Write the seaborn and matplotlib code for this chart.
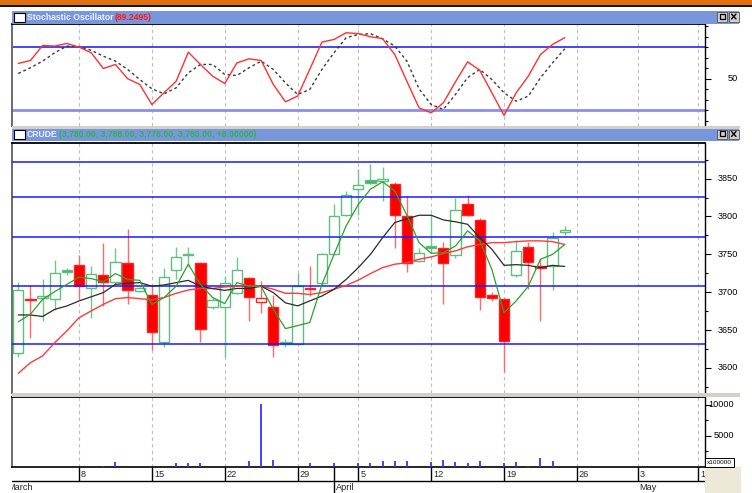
import matplotlib
matplotlib.use("Agg")
import numpy as np
import pandas as pd
import matplotlib.pyplot as plt
from matplotlib.patches import Rectangle
from matplotlib.lines import Line2D
from matplotlib.ticker import FixedLocator, MultipleLocator
from matplotlib.transforms import blended_transform_factory
import seaborn as sns

# ---------------------------------------------------------
# values (daily bars, 2 Mar .. 24 Apr)
# ---------------------------------------------------------
opens = [3620, 3691, 3693, 3691, 3730, 3735.5, 3706, 3723, 3713, 3739,
         3701, 3696, 3634, 3729, 3751, 3739, 3680, 3681, 3699.5, 3719,
         3687, 3681, 3634, 3632, 3704, 3712, 3751, 3802, 3836, 3848,
         3847, 3843, 3800, 3741, 3761, 3758, 3749, 3816, 3796, 3697,
         3691, 3723, 3760, 3734, 3734, 3780]
highs = [3713, 3710, 3718, 3743, 3732, 3749, 3735, 3765, 3758, 3783,
         3707, 3708, 3732, 3760, 3760, 3740, 3694, 3722, 3746, 3720,
         3715, 3697, 3638, 3726, 3735, 3752, 3817, 3833, 3863, 3869,
         3865, 3845, 3827, 3758, 3803, 3766, 3825, 3829, 3798, 3700,
         3692, 3769, 3766, 3744, 3780, 3788]
lows = [3614, 3640, 3662, 3677, 3723, 3691, 3666, 3682, 3711, 3685,
        3700, 3624, 3628, 3718, 3734, 3634, 3678, 3614, 3698, 3662,
        3672, 3614, 3628, 3630, 3695, 3710, 3750, 3800, 3802, 3843,
        3821, 3758, 3727, 3740, 3752, 3684, 3745, 3800, 3676, 3689,
        3595, 3720, 3704, 3662, 3703, 3776]
closes = [3703, 3690, 3695, 3725, 3727, 3708, 3724, 3713, 3740, 3702.5,
          3706, 3647, 3720, 3747, 3749, 3651, 3690, 3712, 3730, 3694,
          3692.5, 3630, 3632, 3708, 3706, 3751, 3800, 3829, 3842, 3844.5,
          3850, 3802, 3738, 3752, 3759, 3739, 3809, 3802, 3694, 3693,
          3636, 3754, 3740, 3732, 3772, 3780]

ma_fast = [3661, 3671, 3690.6, 3700.8, 3710.4, 3720, 3718, 3714, 3724.6, 3717,
           3715.7, 3684, 3693, 3708, 3737, 3710.4, 3693, 3685, 3712.7, 3708,
           3707.4, 3677.4, 3652, 3656, 3660, 3710, 3750, 3787.6, 3816, 3836,
           3845.7, 3833.8, 3801.6, 3765.5, 3751.4, 3752.3, 3761, 3781, 3768, 3730,
           3673, 3688.5, 3708, 3743.5, 3750, 3763]
ma_mid = [3670, 3670, 3668, 3677.4, 3681.9, 3688.5, 3694, 3699.5, 3710.4, 3711.8,
          3712.7, 3708, 3709.6, 3712.7, 3715.7, 3708, 3704.8, 3702.5, 3705, 3705,
          3708, 3699.5, 3686, 3682, 3688.5, 3695, 3703.8, 3717, 3732.5, 3750,
          3772, 3792, 3797, 3801.6, 3801.6, 3795.5, 3793, 3789.7, 3772, 3756.7,
          3735.5, 3736.4, 3735.5, 3732.5, 3735.5, 3734]
ma_slow = [3593, 3607, 3616, 3633.4, 3649, 3666.4, 3675.3, 3684, 3691.5, 3693,
           3691.5, 3690, 3693, 3698.6, 3703, 3705, 3705, 3707, 3708, 3709,
           3708, 3704, 3698.6, 3698.6, 3697, 3699.5, 3704, 3709, 3716, 3724.6,
           3732.5, 3737, 3739, 3743.5, 3746.6, 3751, 3754.6, 3760, 3763, 3765.5,
           3765.5, 3766.8, 3767.8, 3767.8, 3766.8, 3763]

stoch_k = [64.5, 67.3, 81.6, 81, 83.5, 80, 74.7, 59.7, 63.5, 50,
           44.5, 25.4, 36.6, 47.6, 75.2, 63.5, 52.4, 45.4, 65, 68.9,
           67.3, 44.5, 28, 33.4, 58.8, 84.8, 87.3, 93.7, 92.8, 89.9,
           88, 73, 47.5, 22.3, 17.5, 27, 47, 66, 58, 36.6,
           15, 36.6, 52.4, 73, 82.6, 89]
stoch_d = [55, 60.4, 66.7, 74.7, 81, 80.5, 77, 71.4, 66.7, 58.8,
           49.2, 40.4, 35.6, 41.3, 55.6, 63.5, 63.5, 54, 53, 60.4,
           66.7, 58.8, 46, 35, 39.7, 58.8, 74.7, 89, 92, 92.8,
           88, 81, 66.7, 40.4, 25.4, 20.7, 35, 51, 58.8, 49.2,
           36.6, 28.6, 33.4, 50.9, 65.1, 78.5]

volume = [0, 0, 0, 0, 0, 0, 0, 150, 750, 0,
          0, 0, 0, 600, 600, 600, 0, 0, 0, 1000,
          10100, 1200, 0, 0, 600, 0, 600, 0, 600, 600,
          950, 950, 950, 0, 850, 1080, 800, 650, 950, 0,
          700, 800, 150, 1400, 950, 0]

price_levels = [3872, 3826, 3773, 3708, 3632]
stoch_levels = [80, 20]

day_ticks = [5, 11, 17, 23, 28, 34, 40, 46, 51, 56]
day_labels = ['8', '15', '22', '29', '5', '12', '19', '26', '3', '10']
month_pos = [-1.1, 26, 51]
month_labels = ['March', 'April', 'May']

price_ticks = [3600, 3650, 3700, 3750, 3800, 3850]
vol_ticks = [5000, 10000]

bars = np.arange(len(closes))
df = pd.DataFrame({'bar': bars, 'fast': ma_fast, 'mid': ma_mid, 'slow': ma_slow,
                   'k': stoch_k, 'd': stoch_d, 'vol': volume})

# ---------------------------------------------------------
W, H = 752, 493
XLIM = (-0.52, 56.55)
PX_PER_BAR = 12.15
LABEL_FS = 6.6
HEAD_FS = 6.2

sns.set_style("white")
plt.rcParams['font.family'] = ['Liberation Sans', 'DejaVu Sans']

fig = plt.figure(figsize=(W / 100, H / 100), dpi=100, facecolor='white')
renderer = fig.canvas.get_renderer()


def px_axes(x0, y0, x1, y1):
    return fig.add_axes([x0 / W, 1 - y1 / H, (x1 - x0) / W, (y1 - y0) / H])


def px_rect(x0, y0, x1, y1, **kw):
    r = Rectangle((x0 / W, 1 - y1 / H), (x1 - x0) / W, (y1 - y0) / H,
                  transform=fig.transFigure, **kw)
    fig.add_artist(r)
    return r


def px_line(xs, ys, **kw):
    fig.add_artist(Line2D([x / W for x in xs], [1 - y / H for y in ys],
                          transform=fig.transFigure, **kw))


def style_panel(ax, ylim, majors, minor, labels, label_x):
    ax.set_xlim(*XLIM)
    ax.set_ylim(*ylim)
    ax.set_facecolor('white')
    ax.set_xticks(day_ticks)
    ax.grid(axis='x', color='#bcbcbc', linestyle=(0, (3, 3)), linewidth=0.8)
    ax.set_axisbelow(True)
    ax.yaxis.tick_right()
    ax.yaxis.set_major_locator(FixedLocator(majors))
    ax.yaxis.set_minor_locator(MultipleLocator(minor))
    ax.tick_params(axis='y', which='major', length=4.5, width=0.8, colors='black',
                   labelright=False, labelleft=False, direction='out')
    ax.tick_params(axis='y', which='minor', length=2.2, width=0.8, colors='black',
                   direction='out')
    ax.tick_params(axis='x', bottom=False, labelbottom=False, top=False)
    ax.set_xlabel('')
    ax.set_ylabel('')
    for side in ['left', 'right', 'top', 'bottom']:
        ax.spines[side].set_visible(False)
    ax.spines['left'].set_visible(True)
    ax.spines['left'].set_color('#6a6a6a')
    ax.spines['left'].set_linewidth(1.4)
    ax.spines['top'].set_visible(True)
    ax.spines['top'].set_color('black')
    ax.spines['top'].set_linewidth(1.3)
    ax.spines['right'].set_visible(True)
    ax.spines['right'].set_color('black')
    ax.spines['right'].set_linewidth(1.0)
    tr = blended_transform_factory(ax.transAxes, ax.transData)
    for v, lab in zip(majors, labels):
        ax.text(label_x, v, lab, transform=tr, ha='right', va='center',
                fontsize=LABEL_FS, color='black', clip_on=False)


# window chrome
px_rect(0, 0, 752, 5, color='#e2700e', lw=0)
px_rect(0, 5, 752, 7.3, color='#161616', lw=0)
px_rect(12, 126, 740, 128.5, color='#d4d0c8', lw=0)
px_rect(12, 393, 740, 396.5, color='#d4d0c8', lw=0)
px_rect(705, 467, 741, 493, color='#ece9d8', lw=0)


def header(y0, y1, parts):
    px_rect(12, y0, 739, y1, color='#7896dc', lw=0)
    px_rect(14, y0 + 2, 25, y1 - 2, facecolor='white', edgecolor='black', lw=0.8)
    x = 27
    for txt, col in parts:
        t = fig.text(x / W, 1 - (y0 + y1) / 2 / H, txt, color=col, fontsize=HEAD_FS,
                     fontweight='bold', ha='left', va='center')
        x = t.get_window_extent(renderer=renderer).x1 + 1
    for bx in (717, 729):
        px_rect(bx, y0 + 1, bx + 10, y1 - 2, facecolor='#d4d0c8', edgecolor='#505050', lw=0.6)
    px_rect(719.5, y0 + 3, 724.5, y1 - 4.5, facecolor='none', edgecolor='black', lw=0.9)
    px_line([731.5, 736], [y0 + 3, y1 - 4.5], color='black', lw=1.0)
    px_line([731.5, 736], [y1 - 4.5, y0 + 3], color='black', lw=1.0)


header(11, 23.5, [('Stochastic Oscillator', '#eef2ff'), ('(89.2495)', '#ff1a1a')])
header(128.5, 141, [('CRUDE', '#eef2ff'),
                    ('(3,780.00, 3,788.00, 3,776.00, 3,780.00, +8.00000)', '#2fb44a')])

# ---------------------------------------------------------
# stochastic oscillator panel
# ---------------------------------------------------------
ax_s = px_axes(12, 24, 705, 126)
for lv, col, lw in zip(stoch_levels, ['#2626f0', '#8c8cf4'], [1.2, 2.0]):
    ax_s.axhline(lv, color=col, lw=lw, zorder=2)
sns.lineplot(data=df, x='bar', y='d', ax=ax_s, color='#3a3a3a', lw=1.0,
             linestyle=(0, (2, 2)), zorder=4)
sns.lineplot(data=df, x='bar', y='k', ax=ax_s, color='#ff3030', lw=1.0, zorder=5)
style_panel(ax_s, (5, 102), [50], 10, ['50'], 1 + 33 / 693)

# ---------------------------------------------------------
# price panel
# ---------------------------------------------------------
ax_p = px_axes(12, 143, 705, 393)
for lv in price_levels:
    ax_p.axhline(lv, color='#1a1aff', lw=1.1, zorder=4)

body_w = 10.3 / PX_PER_BAR
for i in bars:
    o, h, l, c = opens[i], highs[i], lows[i], closes[i]
    prev = closes[i - 1] if i > 0 else o
    hollow = c >= o
    if c >= prev:
        edge, wick = '#5cbf7d', '#6cc98c'
        fill = 'white' if hollow else '#3cb56a'
    else:
        edge, wick = '#ff2020', '#ff6a6a'
        fill = 'white' if hollow else '#ff0000'
    ax_p.vlines(i, l, h, color=wick, lw=1.0, zorder=2)
    lo, hi = min(o, c), max(o, c)
    ax_p.bar(i, max(hi - lo, 1.5), bottom=lo, width=body_w, color=fill,
             edgecolor=edge, linewidth=1.0, zorder=3)

sns.lineplot(data=df, x='bar', y='slow', ax=ax_p, color='#ff3a3a', lw=1.0, zorder=5)
sns.lineplot(data=df, x='bar', y='mid', ax=ax_p, color='#2a2a2a', lw=0.9, zorder=5)
sns.lineplot(data=df, x='bar', y='fast', ax=ax_p, color='#2ca02c', lw=0.9, zorder=6)
style_panel(ax_p, (3567, 3897), price_ticks, 25,
            [str(v) for v in price_ticks], 1 + 33 / 693)

# ---------------------------------------------------------
# volume panel
# ---------------------------------------------------------
ax_v = px_axes(12, 397, 705, 467)
ax_v.vlines(df['bar'], 0, df['vol'], color='#3434ff', lw=1.3, zorder=3)
style_panel(ax_v, (0, 11200), vol_ticks, 2500, [str(v) for v in vol_ticks], 1 + 29 / 693)
ax_v.spines['bottom'].set_visible(True)
ax_v.spines['bottom'].set_color('black')
ax_v.spines['bottom'].set_linewidth(1.2)

px_rect(705, 458, 734, 467, facecolor='white', edgecolor='black', lw=0.7, zorder=10)
fig.text(719.5 / W, 1 - 462.5 / H, 'x100000', fontsize=4.6, ha='center', va='center',
         color='black', zorder=11)

# ---------------------------------------------------------
# date axis
# ---------------------------------------------------------
ax_d = px_axes(12, 467, 705, 493)
ax_d.set_xlim(*XLIM)
ax_d.set_ylim(493, 467)
ax_d.axis('off')
ax_d.plot(XLIM, [480.7, 480.7], color='black', lw=1.0)
off = 2.0 / PX_PER_BAR
for t, lab in zip(day_ticks, day_labels):
    ax_d.vlines(t, 467, 480.7, color='black', lw=1.0)
    ax_d.text(t + off, 474.3, lab, ha='left', va='center', fontsize=LABEL_FS, clip_on=True)
ax_d.vlines(month_pos[1], 467, 493, color='black', lw=1.0)
for p, lab in zip(month_pos, month_labels):
    ax_d.text(p + off, 487.5, lab, ha='left', va='center', fontsize=LABEL_FS, clip_on=True)

fig.savefig('out.png', dpi=100, facecolor='white')
